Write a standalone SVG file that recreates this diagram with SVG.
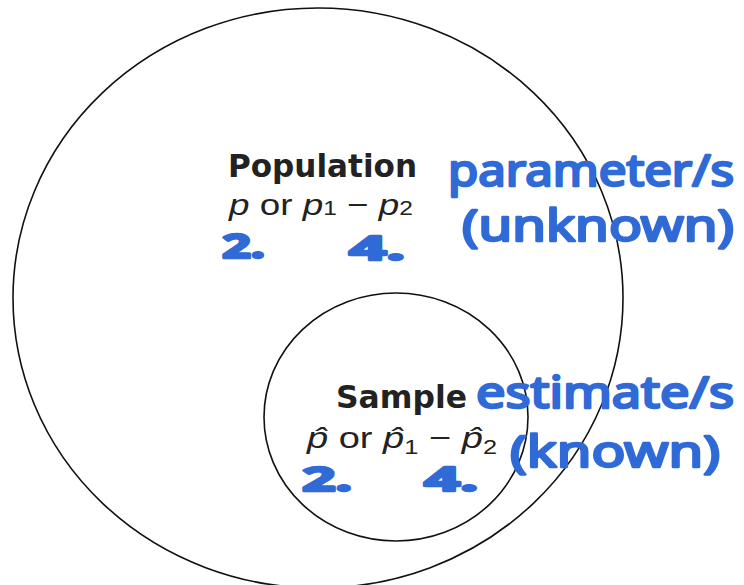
<svg xmlns="http://www.w3.org/2000/svg" width="744" height="585" viewBox="0 0 744 585">
<style>
.ring{fill:none;stroke:#111;stroke-width:1.6}
.title{font-family:"DejaVu Sans",Verdana,sans-serif;font-weight:bold;fill:#222;font-size:32px}
.math{font-family:"Liberation Sans",Arial,sans-serif;fill:#222;font-size:30px}
.it{font-style:italic}
.sub{font-size:20px}
.hand{font-family:"Noto Sans","DejaVu Sans",sans-serif;fill:#2f6ad6;stroke:#2f6ad6;stroke-width:2.5;stroke-linejoin:round}
.num{font-size:34px;font-weight:bold}
</style>
<rect width="744" height="585" fill="#fff"/>
<g id="population">
<ellipse class="ring" cx="318" cy="298" rx="305" ry="290"/>
<text class="title" x="228" y="177" textLength="189" lengthAdjust="spacingAndGlyphs">Population</text>
<text class="math" x="229" y="215" textLength="184" lengthAdjust="spacingAndGlyphs"><tspan class="it">p</tspan> or <tspan class="it">p</tspan><tspan class="sub">1</tspan> − <tspan class="it">p</tspan><tspan class="sub">2</tspan></text>
<text class="hand num" x="222" y="258" textLength="43" lengthAdjust="spacingAndGlyphs">2.</text>
<text class="hand num" x="349" y="260" textLength="56" lengthAdjust="spacingAndGlyphs">4.</text>
</g>
<g id="sample">
<ellipse class="ring" cx="396" cy="417" rx="132" ry="124"/>
<text class="title" x="336" y="408" textLength="131" lengthAdjust="spacingAndGlyphs">Sample</text>
<text class="math" x="307" y="448" textLength="190" lengthAdjust="spacingAndGlyphs"><tspan class="it">p̂</tspan>  or  <tspan class="it">p̂</tspan><tspan class="sub" dy="6">1</tspan><tspan dy="-6"> − </tspan><tspan class="it">p̂</tspan><tspan class="sub" dy="6">2</tspan></text>
<text class="hand num" x="302" y="491" textLength="50" lengthAdjust="spacingAndGlyphs">2.</text>
<text class="hand num" x="424" y="491" textLength="54" lengthAdjust="spacingAndGlyphs">4.</text>
</g>
<g id="notes">
<text class="hand" x="448" y="186" font-size="44" textLength="286" lengthAdjust="spacingAndGlyphs">parameter/s</text>
<text class="hand" x="462" y="241" font-size="44" textLength="272" lengthAdjust="spacingAndGlyphs">(unknown)</text>
<text class="hand" x="476" y="408" font-size="44" textLength="258" lengthAdjust="spacingAndGlyphs">estimate/s</text>
<text class="hand" x="510" y="467" font-size="44" textLength="210" lengthAdjust="spacingAndGlyphs">(known)</text>
</g>
</svg>
